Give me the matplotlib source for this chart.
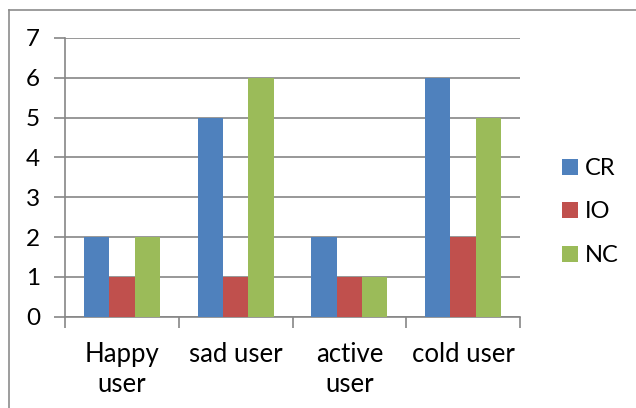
import numpy as np
import matplotlib.pyplot as plt
from matplotlib.lines import Line2D

plt.rcParams['font.family'] = ['Lato', 'DejaVu Sans']

# category names and series values
categories = ["Happy\nuser", "sad user", "active\nuser", "cold user"]
series_names = ["CR", "IO", "NC"]
cr_values = [2, 5, 2, 6]
io_values = [1, 1, 1, 2]
nc_values = [2, 6, 1, 5]
colors = ["#4F81BD", "#C0504D", "#9BBB59"]

W, H = 636, 408
fig = plt.figure(figsize=(W / 100, H / 100), dpi=100)

# chart area border (top and left edges)
fig.add_artist(Line2D([9 / W, 1.0], [1 - 10 / H, 1 - 10 / H], color="#8c8c8c", lw=1.2))
fig.add_artist(Line2D([9 / W, 9 / W], [0.0, 1 - 10 / H], color="#8c8c8c", lw=1.2))

ax = fig.add_axes([65 / W, (H - 316.7) / H, (520 - 65) / W, (316.7 - 38) / H])

x = np.arange(len(categories))
width = 1 / 4.5
for i, (vals, name) in enumerate(zip([cr_values, io_values, nc_values], series_names)):
    ax.bar(x + (i - 1) * width, vals, width, color=colors[i], label=name, zorder=3)

ax.set_xlim(-0.5, len(categories) - 0.5)
ax.set_ylim(0, 7)
ax.set_yticks(range(0, 8))
ax.yaxis.grid(True, color="#868686", lw=1.2, zorder=0)

# boundaries between categories carry the tick marks, centers carry the labels
ax.set_xticks(np.arange(-0.5, len(categories)))
ax.set_xticklabels([])
ax.set_xticks(x, minor=True)
ax.set_xticklabels(categories, minor=True, fontsize=18.5, linespacing=1.25)
ax.tick_params(axis="x", which="major", length=8, direction="out", color="#868686", width=1.2)
ax.tick_params(axis="x", which="minor", length=0, pad=18)
ax.tick_params(axis="y", length=8, direction="out", color="#868686", width=1.2, labelsize=17.5, pad=10)

for side in ["top", "right"]:
    ax.spines[side].set_visible(False)
for side in ["left", "bottom"]:
    ax.spines[side].set_color("#868686")
    ax.spines[side].set_linewidth(1.2)

ax.legend(loc="center left", bbox_to_anchor=(553 / W, (H - 212) / H),
          bbox_transform=fig.transFigure, frameon=False, fontsize=17,
          handlelength=0.65, handleheight=0.65, handletextpad=0.3,
          labelspacing=0.95, borderaxespad=0)

fig.savefig("out.png", dpi=100)
